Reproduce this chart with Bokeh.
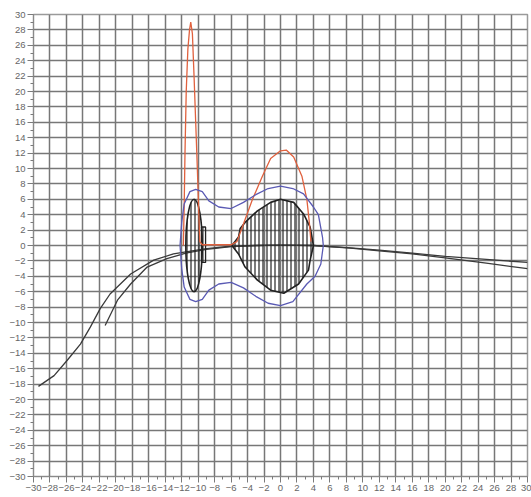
from bokeh.plotting import figure
from bokeh.models import FixedTicker, Range1d
from bokeh.embed import file_html
from bokeh.resources import INLINE

# Axis ticks
major_ticks = list(range(-30, 31, 2))
minor_ticks = list(range(-29, 30, 2))

# Red curve
red_x = [-11.8, -11.7, -11.6, -11.45, -11.25, -11.05, -10.9, -10.7, -10.5, -10.3, -10.1, -9.95, -9.8, -9.5, -6.0, -5.3, -4.6, -3.4, -2.2, -1.2, 0.0, 0.7, 1.6, 2.6, 3.2, 3.5, 3.7]
red_y = [0.0, 5.0, 12.0, 20.0, 25.5, 28.0, 29.0, 27.5, 22.0, 16.0, 10.0, 5.0, 0.5, 0.1, 0.1, 0.5, 2.5, 6.0, 9.0, 11.3, 12.3, 12.4, 11.5, 9.0, 6.0, 3.0, 0.5]

# Blue closed contour
blue_x = [-12.2, -12.0, -11.7, -11.0, -10.3, -9.5, -8.7, -7.5, -6.0, -4.5, -3.0, -1.5, 0.0, 1.5, 2.8, 4.0, 4.6, 5.1, 5.2, 4.9, 4.2, 3.2, 1.5, 0.0, -1.5, -3.0, -4.5, -6.0, -7.5, -8.7, -9.5, -10.3, -11.0, -11.7, -12.0, -12.2]
blue_y = [0.0, 3.0, 5.4, 7.0, 7.3, 7.0, 5.8, 5.0, 4.8, 5.6, 6.6, 7.4, 7.7, 7.4, 6.7, 5.0, 4.0, 1.1, 0.0, -2.4, -4.0, -5.0, -7.3, -7.8, -7.5, -6.6, -5.5, -4.8, -5.0, -5.8, -7.0, -7.3, -7.0, -5.4, -3.0, 0.0]

# Large hatched region outline
big_x = [-5.9, -5.1, -4.9, -4.3, -2.8, -1.2, 0.0, 1.6, 2.8, 3.6, 4.0, 3.6, 3.4, 2.2, 0.4, -1.2, -2.8, -4.3, -5.1]
big_y = [0.0, 1.1, 2.2, 3.0, 4.5, 5.6, 6.0, 5.6, 4.1, 2.4, 0.0, -1.9, -3.2, -5.0, -6.2, -5.8, -4.5, -2.8, -1.1]

# Small hatched ellipse (center, width, height) and its side notch
small_cx, small_cy, small_w, small_h = -10.5, 0.0, 2.0, 12.0
notch_left, notch_right, notch_top, notch_bottom = -9.6, -9.1, 2.4, -2.2

# Black curves
curve_a_x = [-29.4, -27.5, -25.9, -24.3, -23.1, -21.9, -20.7, -18.2, -15.4, -13.0, -11.3, -9.0, -6.1, -3.0, 0.0, 4.0, 8.5, 12.0, 16.0, 20.0, 25.0, 30.0]
curve_a_y = [-18.3, -16.9, -14.9, -12.8, -10.6, -8.2, -6.3, -3.7, -1.9, -1.1, -0.8, -0.4, -0.1, 0.0, 0.05, 0.0, -0.3, -0.6, -1.0, -1.4, -1.8, -2.2]
curve_b_x = [-21.3, -19.8, -18.2, -16.2, -13.8, -11.5, -9.0, -6.0, -3.0, 0.0, 4.0, 8.5, 12.0, 16.0, 20.0, 25.0, 30.0]
curve_b_y = [-10.4, -7.1, -5.0, -2.8, -1.7, -1.0, -0.5, -0.15, 0.0, 0.05, 0.0, -0.35, -0.7, -1.1, -1.6, -2.3, -3.0]

p = figure(width=531, height=497, output_backend="svg", toolbar_location=None,
           x_range=Range1d(-30, 30), y_range=Range1d(-30, 30),
           min_border_left=33, min_border_right=4, min_border_top=14, min_border_bottom=21)
p.background_fill_color = "white"
p.border_fill_color = "white"
p.outline_line_color = "#9a9a9a"
p.outline_line_width = 1.5

for ax in (p.xaxis[0], p.yaxis[0]):
    ax.ticker = FixedTicker(ticks=major_ticks, minor_ticks=minor_ticks)
    ax.major_label_text_font = "Liberation Sans"
    ax.major_label_text_font_size = "9.5px"
    ax.major_label_text_color = "#666666"
    ax.axis_line_color = "#8a8a8a"
    ax.major_tick_line_color = "#7a7a7a"
    ax.minor_tick_line_color = "#7a7a7a"
    ax.major_tick_out = 6
    ax.major_tick_in = 0
    ax.minor_tick_out = 3
    ax.minor_tick_in = 0
    ax.major_label_standoff = 2

p.xgrid.grid_line_color = "#777777"
p.ygrid.grid_line_color = "#777777"
p.xgrid.grid_line_width = 1.5
p.ygrid.grid_line_width = 1.5

# Black curves
p.line(curve_a_x, curve_a_y, line_color="#3a3a3a", line_width=1.3)
p.line(curve_b_x, curve_b_y, line_color="#3a3a3a", line_width=1.3)

# Hatched regions
p.patch(big_x, big_y, fill_alpha=0, line_color="#222222", line_width=1.6,
        hatch_pattern="vertical_line", hatch_color="#222222", hatch_scale=4, hatch_weight=1.2)
p.ellipse(x=[small_cx], y=[small_cy], width=[small_w], height=[small_h], fill_alpha=0,
          line_color="#222222", line_width=1.6,
          hatch_pattern="vertical_line", hatch_color="#222222", hatch_scale=4, hatch_weight=1.2)
p.quad(left=[notch_left], right=[notch_right], top=[notch_top], bottom=[notch_bottom], fill_alpha=0,
       line_color="#222222", line_width=1.3,
       hatch_pattern="vertical_line", hatch_color="#222222", hatch_scale=4, hatch_weight=1.0)

# Red and blue curves
p.line(red_x, red_y, line_color="#e0613e", line_width=1.3)
p.line(blue_x, blue_y, line_color="#5a5ab4", line_width=1.3)

open("out.html", "w").write(file_html(p, INLINE))
